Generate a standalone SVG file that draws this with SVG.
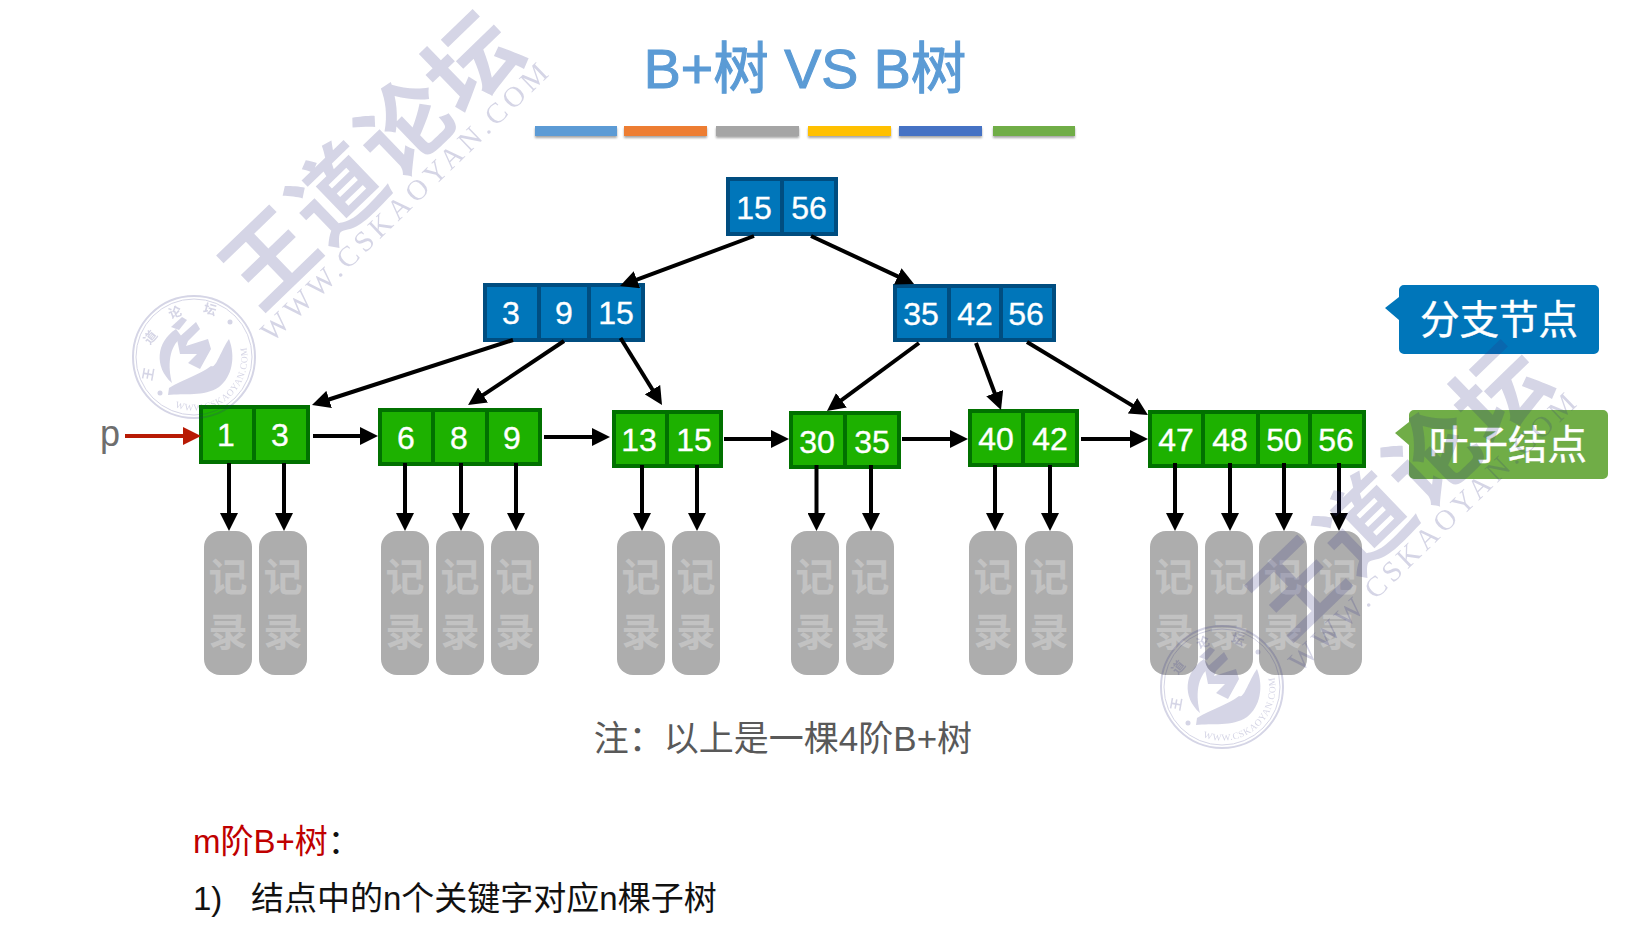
<svg xmlns="http://www.w3.org/2000/svg" width="1635" height="938" viewBox="0 0 1635 938">
<style>
text{font-family:"Liberation Sans","Noto Sans CJK SC",sans-serif}
.bl rect{fill:#0076ba;stroke:#004d80;stroke-width:4}
.gr rect{fill:#1db100;stroke:#017100;stroke-width:4}
.k{fill:#fff;stroke:#fff;stroke-width:.35;font-size:32px;text-anchor:middle}
.rec rect{fill:#adadad}
.rec text{fill:#c2c2c2;font-size:39px;font-weight:700;text-anchor:middle;font-family:"Noto Sans CJK SC",sans-serif}
.c line{stroke:#000;stroke-width:4;marker-end:url(#a)}
.bar{filter:url(#s)}
.wm{fill:#2f2f80;opacity:.2}
.cj{font-family:"Noto Sans CJK SC",sans-serif}
.sl{font-size:13px;font-weight:700;text-anchor:middle;font-family:"Noto Sans CJK SC",sans-serif}
</style>
<defs>
<marker id="a" markerUnits="userSpaceOnUse" markerWidth="18" markerHeight="18" refX="10" refY="9" orient="auto"><path d="M0,0L18,9L0,18Z" fill="#000"/></marker>
<marker id="r" markerUnits="userSpaceOnUse" markerWidth="18" markerHeight="18" refX="10" refY="9" orient="auto"><path d="M0,0L18,9L0,18Z" fill="#b81a04"/></marker>
<filter id="s" x="-5%" y="-30%" width="110%" height="180%"><feDropShadow dx="0" dy="2" stdDeviation="1.2" flood-color="#000" flood-opacity=".35"/></filter>
<path id="sa" d="M-19,50A53,53 0 0 0 50,-18"/>
<g id="wm">
<text class="cj" transform="translate(372,159) rotate(-44)" y="33" text-anchor="middle" font-size="91" font-weight="700" letter-spacing="3">王道论坛</text>
<text transform="translate(404,202) rotate(-44)" text-anchor="middle" y="10" font-size="29" textLength="386" lengthAdjust="spacing" style="font-family:'Liberation Serif',serif">WWW.CSKAOYAN.COM</text>
<g transform="translate(194,357)">
<circle r="61" fill="none" stroke="#2f2f80" stroke-width="2"/>
<circle r="58" fill="none" stroke="#2f2f80" stroke-width="1"/>
<path d="M-18,-28C-38,-15 -40,10 -22,26C-26,10 -26,-10 -12,-20Z"/>
<path d="M-23,-30L-12,-40L-7,-37L-15,-27Z"/>
<path d="M-25,31C-10,22 5,18 17,9C22,12 26,-5 35,-18C42,0 38,20 25,30C10,40 -10,36 -26,38Z"/>
<path d="M-17,-18L2,-35L6,-28L-6,-16L-8,-11L14,-18L17,-8L6,12L-6,6L3,-3L-14,-3Z"/>
<text class="sl" x="-46" y="22" transform="rotate(-80 -46 17)">王</text>
<text class="sl" x="-44" y="-15" transform="rotate(-50 -44 -20)">道</text>
<text class="sl" x="-19" y="-40" transform="rotate(-20 -19 -45)">论</text>
<text class="sl" x="16" y="-43" transform="rotate(15 16 -48)">坛</text>
<circle cx="36" cy="-35" r="2.5"/><circle cx="-34" cy="36" r="2.5"/>
<text font-size="9.5" letter-spacing=".6" style="font-family:'Liberation Serif',serif"><textPath href="#sa">WWW.CSKAOYAN.COM</textPath></text>
</g>
</g>
</defs>
<rect width="1635" height="938" fill="#fff"/>

<text id="title" x="805" y="88" font-size="55.5" fill="#5b9bd5" stroke="#5b9bd5" stroke-width="1.1" text-anchor="middle">B+树 VS B树</text>
<g id="bars">
<rect class="bar" x="535" y="126" width="82" height="10" fill="#5b9bd5"/>
<rect class="bar" x="624" y="126" width="83" height="10" fill="#ed7d31"/>
<rect class="bar" x="716" y="126" width="83" height="10" fill="#a5a5a5"/>
<rect class="bar" x="808" y="126" width="83" height="10" fill="#ffc000"/>
<rect class="bar" x="899" y="126" width="83" height="10" fill="#4472c4"/>
<rect class="bar" x="993" y="126" width="82" height="10" fill="#70ad47"/>
</g>

<g id="records" class="rec">
<g id="r1"><rect x="204" y="531" width="48" height="144" rx="16"/><text x="228" y="591">记</text><text x="228" y="646">录</text></g>
<g id="r2"><rect x="259" y="531" width="48" height="144" rx="16"/><text x="283" y="591">记</text><text x="283" y="646">录</text></g>
<g id="r3"><rect x="381" y="531" width="48" height="144" rx="16"/><text x="405" y="591">记</text><text x="405" y="646">录</text></g>
<g id="r4"><rect x="436" y="531" width="48" height="144" rx="16"/><text x="460" y="591">记</text><text x="460" y="646">录</text></g>
<g id="r5"><rect x="491" y="531" width="48" height="144" rx="16"/><text x="515" y="591">记</text><text x="515" y="646">录</text></g>
<g id="r6"><rect x="617" y="531" width="48" height="144" rx="16"/><text x="641" y="591">记</text><text x="641" y="646">录</text></g>
<g id="r7"><rect x="672" y="531" width="48" height="144" rx="16"/><text x="696" y="591">记</text><text x="696" y="646">录</text></g>
<g id="r8"><rect x="791" y="531" width="48" height="144" rx="16"/><text x="815" y="591">记</text><text x="815" y="646">录</text></g>
<g id="r9"><rect x="846" y="531" width="48" height="144" rx="16"/><text x="870" y="591">记</text><text x="870" y="646">录</text></g>
<g id="r10"><rect x="969" y="531" width="48" height="144" rx="16"/><text x="993" y="591">记</text><text x="993" y="646">录</text></g>
<g id="r11"><rect x="1025" y="531" width="48" height="144" rx="16"/><text x="1049" y="591">记</text><text x="1049" y="646">录</text></g>
<g id="r12"><rect x="1150" y="531" width="48" height="144" rx="16"/><text x="1174" y="591">记</text><text x="1174" y="646">录</text></g>
<g id="r13"><rect x="1205" y="531" width="48" height="144" rx="16"/><text x="1229" y="591">记</text><text x="1229" y="646">录</text></g>
<g id="r14"><rect x="1259" y="531" width="48" height="144" rx="16"/><text x="1283" y="591">记</text><text x="1283" y="646">录</text></g>
<g id="r15"><rect x="1314" y="531" width="48" height="144" rx="16"/><text x="1338" y="591">记</text><text x="1338" y="646">录</text></g>
</g>

<g id="root" class="bl"><rect x="728" y="179" width="54" height="55"/><rect x="782" y="179" width="54" height="55"/><text class="k" x="754" y="219">15</text><text class="k" x="809" y="219">56</text></g>
<g id="b1" class="bl"><rect x="485" y="285" width="54" height="55"/><rect x="539" y="285" width="50" height="55"/><rect x="589" y="285" width="54" height="55"/><text class="k" x="511" y="324">3</text><text class="k" x="564" y="324">9</text><text class="k" x="616" y="324">15</text></g>
<g id="b2" class="bl"><rect x="895" y="286" width="54" height="54"/><rect x="949" y="286" width="52" height="54"/><rect x="1001" y="286" width="53" height="54"/><text class="k" x="921" y="325">35</text><text class="k" x="975" y="325">42</text><text class="k" x="1026" y="325">56</text></g>
<g id="l1" class="gr"><rect x="201" y="407" width="53" height="55"/><rect x="254" y="407" width="54" height="55"/><text class="k" x="226" y="446">1</text><text class="k" x="280" y="446">3</text></g>
<g id="l2" class="gr"><rect x="380" y="410" width="53" height="54"/><rect x="433" y="410" width="54" height="54"/><rect x="487" y="410" width="53" height="54"/><text class="k" x="406" y="449">6</text><text class="k" x="459" y="449">8</text><text class="k" x="512" y="449">9</text></g>
<g id="l3" class="gr"><rect x="614" y="412" width="53" height="54"/><rect x="667" y="412" width="54" height="54"/><text class="k" x="639" y="451">13</text><text class="k" x="694" y="451">15</text></g>
<g id="l4" class="gr"><rect x="791" y="413" width="54" height="54"/><rect x="845" y="413" width="54" height="54"/><text class="k" x="817" y="453">30</text><text class="k" x="872" y="453">35</text></g>
<g id="l5" class="gr"><rect x="970" y="411" width="53" height="54"/><rect x="1023" y="411" width="54" height="54"/><text class="k" x="996" y="450">40</text><text class="k" x="1050" y="450">42</text></g>
<g id="l6" class="gr"><rect x="1150" y="412" width="53" height="54"/><rect x="1203" y="412" width="55" height="54"/><rect x="1258" y="412" width="52" height="54"/><rect x="1310" y="412" width="54" height="54"/><text class="k" x="1176" y="451">47</text><text class="k" x="1230" y="451">48</text><text class="k" x="1284" y="451">50</text><text class="k" x="1336" y="451">56</text></g>

<g id="connectors" class="c">
<line x1="754" y1="236" x2="627.5" y2="283.2"/>
<line x1="811" y1="236" x2="906.8" y2="280.6"/>
<line x1="513" y1="340" x2="319.6" y2="402.5"/>
<line x1="564" y1="341" x2="474.7" y2="400.6"/>
<line x1="620.5" y1="338" x2="657.8" y2="398.2"/>
<line x1="919" y1="343" x2="833.4" y2="406.2"/>
<line x1="976" y1="343" x2="998.2" y2="402.5"/>
<line x1="1027" y1="342" x2="1141.1" y2="410.9"/>
<line x1="313" y1="436" x2="370" y2="436"/>
<line x1="544" y1="437" x2="602" y2="437"/>
<line x1="724" y1="439" x2="781" y2="439"/>
<line x1="902" y1="439" x2="960" y2="439"/>
<line x1="1081" y1="439" x2="1140" y2="439"/>
<line x1="229" y1="463" x2="229" y2="523"/>
<line x1="284" y1="463" x2="284" y2="523"/>
<line x1="405" y1="463" x2="405" y2="523"/>
<line x1="461" y1="463" x2="461" y2="523"/>
<line x1="516" y1="463" x2="516" y2="523"/>
<line x1="642" y1="465" x2="642" y2="523"/>
<line x1="697" y1="465" x2="697" y2="523"/>
<line x1="816.5" y1="465" x2="816.5" y2="523"/>
<line x1="871" y1="465" x2="871" y2="523"/>
<line x1="995" y1="465" x2="995" y2="523"/>
<line x1="1050" y1="465" x2="1050" y2="523"/>
<line x1="1175" y1="463" x2="1175" y2="523"/>
<line x1="1230" y1="463" x2="1230" y2="523"/>
<line x1="1284" y1="463" x2="1284" y2="523"/>
<line x1="1339" y1="463" x2="1339" y2="523"/>
<line x1="125" y1="436" x2="193" y2="436" style="stroke:#b81a04;marker-end:url(#r)"/>
</g>
<text id="p" x="100" y="446" font-size="36" fill="#6e6e6e">p</text>

<g id="callout-branch"><path d="M1404,285H1594a5,5 0 0 1 5,5V349a5,5 0 0 1 -5,5H1404a5,5 0 0 1 -5,-5V320L1385,308L1399,297V290a5,5 0 0 1 5,-5Z" fill="#0076ba"/><text x="1499" y="334" font-size="39.5" stroke="#fff" stroke-width=".4" fill="#fff" text-anchor="middle">分支节点</text></g>
<g id="callout-leaf"><path d="M1414,410H1603a5,5 0 0 1 5,5V474a5,5 0 0 1 -5,5H1414a5,5 0 0 1 -5,-5V445L1395,433L1409,422V415a5,5 0 0 1 5,-5Z" fill="#70ad47"/><text x="1508" y="459" font-size="39.5" stroke="#fff" stroke-width=".4" fill="#fff" text-anchor="middle">叶子结点</text></g>

<text id="note" x="783" y="751" font-size="35" fill="#595959" text-anchor="middle">注&#xFF1A;以上是一棵4阶B+树</text>
<text id="m" x="193" y="853" font-size="33" fill="#c00000">m阶B+树<tspan fill="#111">&#xFF1A;</tspan></text>
<g id="rule"><text x="193" y="910" font-size="33" fill="#111">1)</text><text x="251" y="910" font-size="33" fill="#111">结点中的n个关键字对应n棵子树</text></g>

<g id="watermarks" class="wm"><use href="#wm"/><use href="#wm" x="1028" y="330"/></g>
</svg>
